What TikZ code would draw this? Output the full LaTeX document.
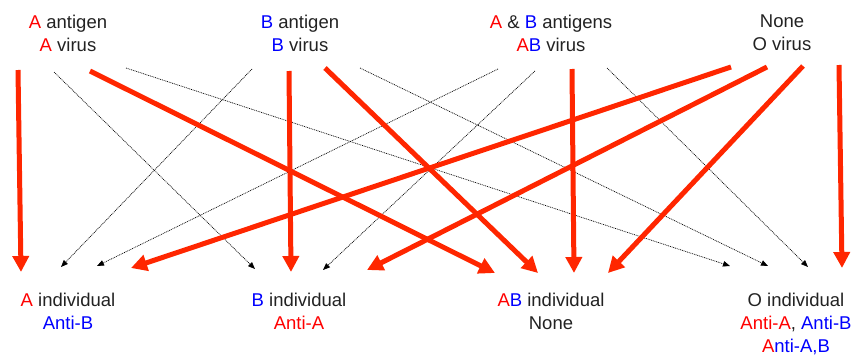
\documentclass[tikz,border=0pt]{standalone}
\usepackage{fontspec}
\setmainfont{Liberation Sans}
\usetikzlibrary{arrows.meta}
\definecolor{tred}{RGB}{255,0,0}
\definecolor{tblue}{RGB}{0,0,255}
\definecolor{ared}{RGB}{255,38,0}
\definecolor{tblack}{RGB}{34,34,34}
\newcommand{\R}[1]{\textcolor{tred}{#1}}
\newcommand{\B}[1]{\textcolor{tblue}{#1}}
\begin{document}
\begin{tikzpicture}[x=1pt,y=-1pt,
  lbl/.style={font=\fontsize{18.5}{23}\selectfont, text=tblack, align=center, anchor=north, inner sep=0pt},
  strong/.style={draw=ared, line width=5pt, -{Triangle[length=16pt,width=16pt]}},
  weak/.style={draw=black, line width=0.7pt, dash pattern=on 0.9pt off 0.9pt, -{Triangle[length=7pt,width=5.5pt]}}]
\useasboundingbox (0,0) rectangle (855,356);
% top labels
\node[lbl] (tA) at (68,15) {\R{A} antigen\\\R{A} virus};
\node[lbl] (tB) at (300,15) {\B{B} antigen\\\B{B} virus};
\node[lbl] (tAB) at (551,15) {\R{A} \& \B{B} antigens\\\R{A}\B{B} virus};
\node[lbl] (tO) at (782,15) {None\\O virus};
% bottom labels
\node[lbl] (bA) at (68,293) {\R{A} individual\\\B{Anti-B}};
\node[lbl] (bB) at (299,293) {\B{B} individual\\\R{Anti-A}};
\node[lbl] (bAB) at (551,293) {\R{A}\B{B} individual\\None};
\node[lbl] (bO) at (796,293) {O individual\\\R{Anti-A}, \B{Anti-B}\\\R{A}\B{nti-A,B}};
% start coordinates
\coordinate (sAA) at (18,70);
\coordinate (sAAB) at (90,71);
\coordinate (sAB) at (54,72);
\coordinate (sAO) at (126,68);
\coordinate (sBB) at (289,71);
\coordinate (sBAB) at (325,68);
\coordinate (sBA) at (252,69);
\coordinate (sBO) at (360,68);
\coordinate (sABAB) at (572,69);
\coordinate (sABA) at (498,69);
\coordinate (sABB) at (535,71);
\coordinate (sABO) at (607,68);
\coordinate (sOA) at (731,67);
\coordinate (sOB) at (767,67);
\coordinate (sOAB) at (803,66);
\coordinate (sOO) at (839,65);
% end coordinates
\coordinate (eAA) at (21,272);
\coordinate (eAAB) at (495,273);
\coordinate (eAB) at (255,269);
\coordinate (eAO) at (730,266);
\coordinate (eBB) at (291,272);
\coordinate (eBAB) at (538,273);
\coordinate (eBA) at (61,267);
\coordinate (eBO) at (768,266);
\coordinate (eABAB) at (574,273);
\coordinate (eABA) at (97,266);
\coordinate (eABB) at (323,270);
\coordinate (eABO) at (808,267);
\coordinate (eOA) at (131,268);
\coordinate (eOB) at (367,270);
\coordinate (eOAB) at (608,273);
\coordinate (eOO) at (842,268);
% dotted arrows
\draw[weak] (sAB) -- (eAB);
\draw[weak] (sAO) -- (eAO);
\draw[weak] (sBA) -- (eBA);
\draw[weak] (sBO) -- (eBO);
\draw[weak] (sABA) -- (eABA);
\draw[weak] (sABB) -- (eABB);
\draw[weak] (sABO) -- (eABO);
% red arrows
\draw[strong] (sAA) -- (eAA);
\draw[strong] (sAAB) -- (eAAB);
\draw[strong] (sBB) -- (eBB);
\draw[strong] (sBAB) -- (eBAB);
\draw[strong] (sABAB) -- (eABAB);
\draw[strong] (sOA) -- (eOA);
\draw[strong] (sOB) -- (eOB);
\draw[strong] (sOAB) -- (eOAB);
\draw[strong] (sOO) -- (eOO);
\end{tikzpicture}
\end{document}
